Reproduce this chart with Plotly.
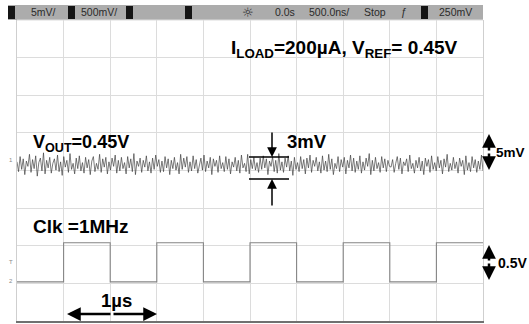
import numpy as np
import plotly.graph_objects as go

# ---------------- data ----------------
# Channel 1: Vout ripple (deviation from 0.45 V, in mV), sampled across the 5 us screen
vout_noise_mV = [
    0.4,-0.9,1.1,-0.6,0.8,-1.3,0.5,-0.2,1.4,-1.0,0.7,-0.5,1.2,-1.5,0.3,0.9,-0.8,1.6,-1.2,0.6,
    -0.4,1.0,-1.1,0.2,0.8,-0.7,1.3,-0.9,0.4,-1.4,1.1,-0.3,0.6,-1.0,1.5,-0.6,0.2,-1.2,0.9,-0.5,
    1.2,-0.8,0.3,-1.1,1.0,-0.4,0.7,-1.3,0.5,1.1,-0.9,0.2,-0.6,1.4,-1.0,0.8,-0.3,1.0,-1.2,0.4,
    -0.7,0.9,-0.2,1.3,-1.1,0.6,-0.8,1.0,-0.5,0.3,-1.2,1.1,-0.4,0.8,-0.9,1.5,-1.3,0.5,-0.2,0.9,
    -1.0,0.6,-0.3,1.2,-0.8,0.4,-1.1,0.9,-0.6,1.3,-0.2,0.7,-1.0,0.5,-0.9,1.1,-0.4,0.8,-1.3,0.6,
    -0.5,1.0,-0.7,0.3,-1.2,1.4,-0.6,0.9,-0.3,1.1,-1.0,0.4,-0.8,1.2,-0.5,0.7,-1.1,0.2,0.9,-0.7,
    1.3,-0.9,0.5,-0.4,1.0,-1.3,0.8,-0.2,0.6,-1.0,1.2,-0.5,0.3,-0.9,1.1,-0.6,0.8,-1.2,0.4,-0.3,
    1.0,-0.8,0.6,-1.1,1.3,-0.4,0.2,-0.9,1.4,-1.2,0.7,-0.5,1.0,-0.7,0.3,-1.0,0.9,-0.6,1.2,-0.4,
    0.8,-1.3,0.5,-0.2,1.1,-0.9,0.6,-1.1,1.5,-0.7,0.4,-1.0,0.9,-0.3,1.2,-0.8,0.5,-1.4,1.0,-0.6,
    0.3,-0.9,1.1,-0.5,0.7,-1.2,0.9,-0.4,1.3,-1.0,0.6,-0.2,1.0,-0.8,0.4,-1.1,1.2,-0.7,0.5,-0.9,
    1.4,-0.6,0.8,-1.3,0.2,-0.5,1.1,-0.9,0.7,-0.3,1.0,-1.2,0.6,-0.4,1.3,-0.8,0.9,-1.0,0.5,-0.6,
    1.2,-1.1,0.4,-0.7,0.9,-0.2,1.5,-1.3,0.6,-0.8,1.0,-0.5,0.3,-1.0,1.1,-0.4,0.8,-0.9,0.6,-0.2,
    -0.3,0.7,-1.0,0.2,1.1,-0.6,0.9,-1.2,0.4,-0.1,0.8,-0.9,1.3,-0.5,0.2,-1.1,0.6,-0.4,1.0,-0.8,
    0.5,-1.3,0.9,-0.2,0.7,-1.0,1.2,-0.6,0.3,-0.8,1.1,-0.4,0.6,-1.2,0.8,-0.3,1.4,-0.9,0.2,-0.7,
    1.0,-0.5,0.4,-1.1,0.9,-0.2,0.6,-1.3,1.2,-0.7,0.3,-0.9,1.1,-0.4,0.7,-1.0,0.5,-0.6,1.3,-0.8,
]
ch1_mV_per_div = 5.0
ch1_offset_div = 0.15

# Channel 2: 1 MHz clock, edge times (us) and levels (V)
clk_edges_us = [-2.5, -2.0, -1.5, -1.0, -0.5, 0.0, 0.5, 1.0, 1.5, 2.0, 2.5]
clk_levels_V = [0.0, 0.52, 0.0, 0.52, 0.0, 0.52, 0.0, 0.52, 0.0, 0.52]
ch2_V_per_div = 0.5
ch2_offset_div = -2.96

time_per_div_us = 0.5
screen_us = [-2.5, 2.5]

# ---------------- build traces ----------------
t1 = np.linspace(screen_us[0], screen_us[1], len(vout_noise_mV))
y1 = [ch1_offset_div + v / ch1_mV_per_div for v in vout_noise_mV]

clk_t, clk_y = [], []
for i, lvl in enumerate(clk_levels_V):
    clk_t += [clk_edges_us[i], clk_edges_us[i + 1]]
    clk_y += [ch2_offset_div + lvl / ch2_V_per_div] * 2

fig = go.Figure()
fig.add_trace(go.Scatter(x=t1, y=y1, mode="lines",
                         line=dict(color="rgba(60,60,60,0.75)", width=0.9)))
fig.add_trace(go.Scatter(x=clk_t, y=clk_y, mode="lines",
                         line=dict(color="#858585", width=1.1)))

W, H = 529, 324
L, R, T, B = 17, 46, 20, 3
PW, PH = W - L - R, H - T - B


def px(x):
    return (x - L) / PW


def py(y):
    return (H - B - y) / PH


FONT = "Liberation Sans, Arial, sans-serif"
NARROW = "Liberation Sans Narrow, Liberation Sans, Arial, sans-serif"

shapes = []
# status bar
shapes.append(dict(type="rect", xref="paper", yref="paper", x0=px(8), x1=px(483),
                   y0=py(20), y1=py(5), fillcolor="#acacac", line=dict(width=0), layer="above"))
for bx in [8, 68, 126, 185, 421]:
    shapes.append(dict(type="rect", xref="paper", yref="paper", x0=px(bx), x1=px(bx + 7),
                       y0=py(19), y1=py(6), fillcolor="#151515", line=dict(width=0), layer="above"))
# top border
shapes.append(dict(type="line", xref="paper", yref="paper", x0=0, x1=1, y0=1, y1=1,
                   line=dict(color="#dcdcdc", width=1)))
# 3mV markers
for yy in [157, 179]:
    shapes.append(dict(type="line", xref="paper", yref="paper", x0=px(249), x1=px(289),
                       y0=py(yy), y1=py(yy), line=dict(color="black", width=1.5), layer="above"))

annotations = []


def text(x, y, s, size, color="black", family=FONT, xanchor="center"):
    annotations.append(dict(x=px(x), y=py(y), xref="paper", yref="paper", text=s,
                            showarrow=False, xanchor=xanchor, yanchor="middle",
                            font=dict(family=family, size=size, color=color)))


def arrow(x_head, y_head, x_tail, y_tail, width=2, size=1.2):
    annotations.append(dict(x=px(x_head), y=py(y_head), xref="paper", yref="paper",
                            ax=x_tail - x_head, ay=y_tail - y_head, axref="pixel", ayref="pixel",
                            text="", showarrow=True, arrowhead=2, arrowsize=size,
                            arrowwidth=width, arrowcolor="black", standoff=0, startstandoff=0))


# status-bar labels
for x, s in [(43, "5mV/"), (99, "500mV/"), (285, "0.0s"), (329, "500.0ns/"),
             (375, "Stop"), (404, "ƒ"), (455, "250mV")]:
    text(x, 12.5, s, 10.5, color="#2a2a2a", family=NARROW)
annotations.append(dict(x=px(248), y=py(12.5), xref="paper", yref="paper", text="☼",
                        showarrow=False, yanchor="middle",
                        font=dict(family="DejaVu Sans", size=13, color="#2a2a2a")))

# chart texts
text(344, 49, "<b>I<sub>LOAD</sub>=200µA, V<sub>REF</sub>= 0.45V</b>", 19)
text(31, 143, "<b>V<sub>OUT</sub>=0.45V</b>", 18, xanchor="left")
text(31, 226, "<b>Clk =1MHz</b>", 19, xanchor="left")
text(116, 300, "<b>1µs</b>", 18.5)
text(285, 141, "<b>3mV</b>", 18.5, xanchor="left")
text(494, 152, "<b>5mV</b>", 13.5, xanchor="left")
text(496, 263, "<b>0.5V</b>", 14, xanchor="left")

# channel markers
text(11, 160, "1", 6, color="#888888")
text(11, 262, "T", 6, color="#888888")
text(11, 281, "2", 6, color="#888888")

# arrows
arrow(272, 157, 272, 131, width=1.5, size=1.3)
arrow(272, 179, 272, 207, width=1.5, size=1.3)
arrow(489, 134, 489, 152, width=2.5, size=1.1)
arrow(489, 170, 489, 152, width=2.5, size=1.1)
arrow(489, 245, 489, 262, width=2.5, size=1.1)
arrow(489, 280, 489, 262, width=2.5, size=1.1)
arrow(67, 314, 112, 314, width=2.5, size=1.1)
arrow(157, 314, 112, 314, width=2.5, size=1.1)

fig.update_layout(
    width=W, height=H,
    margin=dict(l=L, r=R, t=T, b=B, pad=0),
    paper_bgcolor="white", plot_bgcolor="white",
    showlegend=False,
    shapes=shapes, annotations=annotations,
    xaxis=dict(range=screen_us, dtick=time_per_div_us, tick0=0, showgrid=True,
               gridcolor="#dcdcdc", gridwidth=1, zeroline=False, showticklabels=False,
               ticks="", showline=True, linecolor="#707070", linewidth=2, fixedrange=True),
    yaxis=dict(range=[-4, 4], dtick=1, tick0=0, showgrid=True, gridcolor="#dcdcdc",
               gridwidth=1, zeroline=False, showticklabels=False, ticks="",
               showline=True, mirror=True, linecolor="#cfcfcf", linewidth=1, fixedrange=True),
)

fig.write_html("out.html")
